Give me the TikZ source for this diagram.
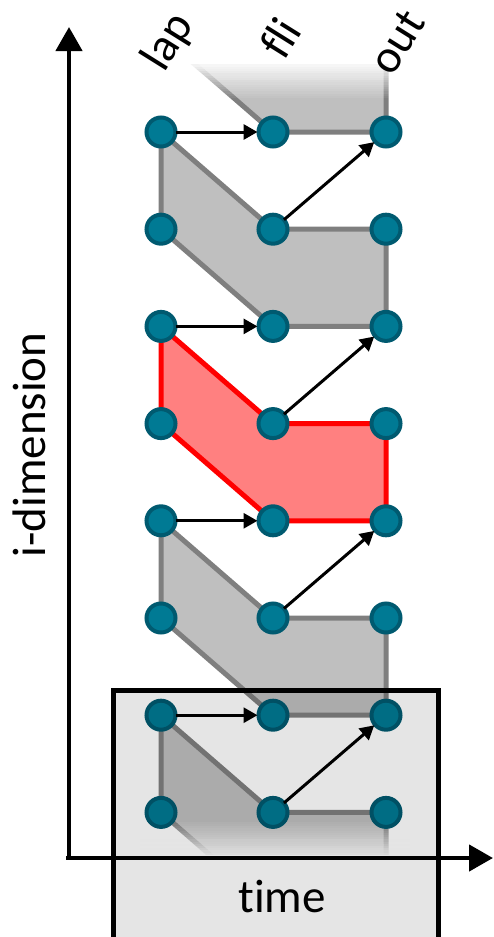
\documentclass[tikz,border=0pt]{standalone}
\usepackage{fontspec}
\setmainfont{Carlito}[Ligatures={NoCommon,NoRare,NoContextual}]
\usetikzlibrary{arrows.meta}
\definecolor{nodefill}{RGB}{0,122,148}
\definecolor{nodeline}{RGB}{0,90,112}
\definecolor{polyfill}{RGB}{191,191,191}
\definecolor{polyline}{RGB}{127,127,127}
\definecolor{redfill}{RGB}{255,128,128}
\pgfdeclarelayer{bg}
\pgfdeclarelayer{fg}
\pgfsetlayers{bg,main,fg}
\begin{document}
\begin{tikzpicture}[x=1pt,y=-1pt,
  dot/.style={circle, draw=nodeline, fill=nodefill, line width=4pt, minimum size=29pt, inner sep=0pt},
  gpoly/.style={draw=polyline, fill=polyfill, line width=5pt, line join=round},
  rpoly/.style={draw=red, fill=redfill, line width=5pt, line join=round},
  arr/.style={-{Triangle[length=14pt,width=15pt]}, line width=3pt, shorten <=-2pt, shorten >=-1pt},
  axarr/.style={-{Triangle[length=24pt,width=26pt]}, line width=4.5pt},
  lbl/.style={font=\fontsize{47}{56}\selectfont, inner sep=0pt},
]
\useasboundingbox (0,0) rectangle (493,937);

% grid nodes
\foreach \r in {1,...,8}{
  \pgfmathsetmacro\yy{132+(\r-1)*97.2}
  \node[dot] (l\r) at (161,\yy) {};
  \node[dot] (f\r) at (273,\yy) {};
  \node[dot] (o\r) at (386,\yy) {};
}
% ghost coordinates beyond the visible rows
\coordinate (lA) at (161,-62.4);
\coordinate (l0) at (161,34.8);
\coordinate (f0) at (273,34.8);
\coordinate (o0) at (386,34.8);
\coordinate (f9) at (273,909.6);
\coordinate (o9) at (386,909.6);

\begin{pgfonlayer}{bg}
  % top faded polygon
  \begin{scope}
    \clip (140,62) rectangle (410,140);
    \draw[gpoly] (lA) -- (l0) -- (f1.center) -- (o1.center) -- (o0) -- (f0) -- cycle;
  \end{scope}
  \foreach \j in {1,...,16}{
    \pgfmathsetmacro\op{1/\j}
    \pgfmathsetmacro\ye{62+\j*2.25}
    \fill[white, opacity=\op] (140,61) rectangle (410,\ye);
  }
  % middle polygons
  \draw[gpoly] (l1.center) -- (l2.center) -- (f3.center) -- (o3.center) -- (o2.center) -- (f2.center) -- cycle;
  \draw[rpoly] (l3.center) -- (l4.center) -- (f5.center) -- (o5.center) -- (o4.center) -- (f4.center) -- cycle;
  \draw[gpoly] (l5.center) -- (l6.center) -- (f7.center) -- (o7.center) -- (o6.center) -- (f6.center) -- cycle;
  % bottom faded polygon
  \begin{scope}
    \clip (140,700) rectangle (410,857);
    \draw[gpoly] (l7.center) -- (l8.center) -- (f9) -- (o9) -- (o8.center) -- (f8.center) -- cycle;
  \end{scope}
  \foreach \j in {1,...,16}{
    \pgfmathsetmacro\op{1/\j}
    \pgfmathsetmacro\ys{857-\j*2.2}
    \fill[white, opacity=\op] (140,\ys) rectangle (410,858);
  }
\end{pgfonlayer}

% arrows
\foreach \a in {1,3,5,7}{
  \draw[arr] (l\a) -- (f\a);
}
\foreach \a/\b in {2/1,4/3,6/5,8/7}{
  \draw[arr] (f\a) -- (o\b);
}

% axes
\coordinate (org) at (69,858);
\coordinate (x0) at (66,858);
\coordinate (ytip) at (69,27);
\coordinate (xtip) at (493,858);
\draw[axarr] (org) -- (ytip);
\draw[axarr] (x0) -- (xtip);

% labels
\node[lbl, rotate=58] (tlap) at (169,42) {lap};
\node[lbl, rotate=58] (tfli) at (280,38) {fli};
\node[lbl, rotate=58] (tout) at (397,42) {out};
\node[lbl, rotate=90, anchor=base] (tid) at (45,445) {i-dimension};

\begin{pgfonlayer}{fg}
  \draw[line width=5pt, fill=black, fill opacity=0.1] (113,690) rectangle (438,960);
  \node[lbl, anchor=base] (ttime) at (282,912) {time};
\end{pgfonlayer}
\end{tikzpicture}
\end{document}
